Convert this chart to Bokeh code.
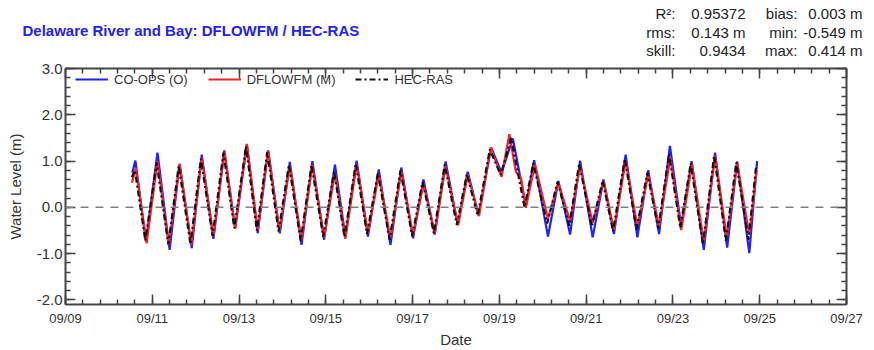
import numpy as np
import pandas as pd
from bokeh.plotting import figure
from bokeh.core.properties import value
from bokeh.models import (FixedTicker, DatetimeTickFormatter, DatetimeAxis, LinearAxis,
                          Span, Legend, LegendItem, Range1d, NumeralTickFormatter,
                          CustomJSTickFormatter, ColumnDataSource)
from bokeh.embed import file_html
from bokeh.resources import INLINE

# ---- data: high / low water times (day of September) and levels (m) ----
obs_day = [10.54, 10.61, 10.855, 11.12, 11.40, 11.63, 11.91, 12.14, 12.41, 12.66, 12.91,
           13.18, 13.43, 13.67, 13.94, 14.17, 14.44, 14.69, 14.96, 15.21, 15.45, 15.71,
           15.97, 16.22, 16.49, 16.74, 17.01, 17.25, 17.51, 17.76, 18.04, 18.27, 18.52,
           18.81, 19.05, 19.31, 19.61, 19.80, 20.12, 20.36, 20.63, 20.86, 21.15, 21.40,
           21.64, 21.91, 22.18, 22.43, 22.68, 22.93, 23.19, 23.43, 23.71, 23.97, 24.25,
           24.48, 24.76, 24.94]
obs_wl = [0.75, 1.01, -0.74, 1.18, -0.92, 0.94, -0.88, 1.14, -0.68, 1.23, -0.45,
          1.36, -0.56, 1.23, -0.56, 0.98, -0.81, 1.00, -0.70, 0.92, -0.63, 1.01,
          -0.63, 0.82, -0.81, 0.86, -0.67, 0.60, -0.59, 0.99, -0.38, 0.77, -0.17,
          1.29, 0.75, 1.49, 0.02, 1.02, -0.63, 0.57, -0.59, 1.01, -0.65, 0.60,
          -0.58, 1.14, -0.65, 0.80, -0.58, 1.33, -0.41, 1.00, -0.92, 1.18, -0.87,
          0.99, -0.99, 1.00]

mod_day = [10.53, 10.62, 10.87, 11.12, 11.38, 11.63, 11.90, 12.14, 12.41, 12.66, 12.91,
           13.18, 13.43, 13.67, 13.93, 14.17, 14.44, 14.69, 14.96, 15.21, 15.45, 15.71,
           15.97, 16.22, 16.49, 16.74, 17.01, 17.25, 17.51, 17.76, 18.05, 18.27, 18.53,
           18.80, 19.05, 19.23, 19.38, 19.50, 19.61, 19.82, 20.12, 20.36, 20.63, 20.86,
           21.15, 21.40, 21.64, 21.91, 22.18, 22.43, 22.68, 22.94, 23.19, 23.44, 23.71,
           23.97, 24.24, 24.48, 24.76, 24.93]
mod_wl = [0.53, 0.84, -0.78, 1.00, -0.81, 0.94, -0.81, 1.07, -0.63, 1.20, -0.46,
          1.37, -0.49, 1.22, -0.52, 0.89, -0.70, 0.91, -0.65, 0.74, -0.68, 0.93,
          -0.56, 0.71, -0.67, 0.78, -0.61, 0.51, -0.56, 0.89, -0.39, 0.71, -0.19,
          1.29, 0.66, 1.58, 0.77, 0.63, -0.01, 0.93, -0.25, 0.53, -0.30, 0.89,
          -0.34, 0.57, -0.49, 1.00, -0.41, 0.71, -0.41, 1.07, -0.49, 0.93, -0.74,
          1.11, -0.65, 0.96, -0.59, 0.80]

ras_day = [10.53, 10.60, 10.84, 11.10, 11.37, 11.61, 11.88, 12.12, 12.39, 12.64, 12.89,
           13.16, 13.41, 13.65, 13.91, 14.15, 14.42, 14.67, 14.94, 15.19, 15.43, 15.69,
           15.95, 16.20, 16.47, 16.72, 16.99, 17.23, 17.49, 17.74, 18.02, 18.25, 18.50,
           18.78, 19.03, 19.27, 19.58, 19.78, 20.10, 20.34, 20.61, 20.84, 21.13, 21.38,
           21.62, 21.89, 22.16, 22.41, 22.66, 22.91, 23.17, 23.41, 23.69, 23.95, 24.22,
           24.46, 24.74, 24.92]
ras_wl = [0.65, 0.80, -0.72, 0.97, -0.80, 0.90, -0.80, 1.05, -0.62, 1.18, -0.45,
          1.32, -0.50, 1.20, -0.52, 0.92, -0.72, 0.92, -0.64, 0.78, -0.64, 0.95,
          -0.58, 0.74, -0.70, 0.80, -0.62, 0.55, -0.56, 0.92, -0.38, 0.72, -0.18,
          1.25, 0.70, 1.50, 0.00, 0.95, -0.35, 0.55, -0.40, 0.95, -0.42, 0.58,
          -0.52, 1.05, -0.48, 0.75, -0.46, 1.15, -0.45, 0.95, -0.80, 1.12, -0.72,
          0.97, -0.70, 0.92]

x_tick_days = [9, 11, 13, 15, 17, 19, 21, 23, 25, 27]
y_ticks = [-2.0, -1.0, 0.0, 1.0, 2.0, 3.0]

stats_rows = [("R\u00b2:", "0.95372", "bias:", "0.003 m"),
              ("rms:", "0.143 m", "min:", "-0.549 m"),
              ("skill:", "0.9434", "max:", "0.414 m")]

title_text = "Delaware River and Bay: DFLOWFM / HEC-RAS"

BASE = pd.Timestamp("2018-09-01")


def to_dt(days):
    return BASE + pd.to_timedelta(np.asarray(days, dtype=float) - 1.0, unit="D")


def to_ms(days):
    return [(BASE + pd.Timedelta(days=d - 1)).value / 1e6 for d in days]


FONT = "Liberation Sans"
TXT = "#333333"
AX = "#444444"
W = 874
HEAD_H = 60

# ---------------- header strip (title + statistics), its own root ----------------
head = figure(width=W, height=HEAD_H, output_backend="svg", toolbar_location=None,
              x_range=Range1d(0, W), y_range=Range1d(HEAD_H, 0),
              min_border=0, min_border_left=0, min_border_right=0,
              min_border_top=0, min_border_bottom=0)
head.axis.visible = False
head.grid.visible = False
head.outline_line_color = None
head.background_fill_color = "white"
head.border_fill_color = "white"

head.text(x=[22], y=[30], text=[title_text], text_font=value(FONT),
          text_font_size="15px", text_font_style="bold", text_color="#2222ee",
          text_align="left", text_baseline="middle")

col_x = [675, 745, 797, 862]
row_y = [13, 32, 50]
sx, sy, st = [], [], []
for r, row in enumerate(stats_rows):
    for c, txt in enumerate(row):
        sx.append(col_x[c])
        sy.append(row_y[r])
        st.append(txt)
head.text(x="x", y="y", text="t", source=ColumnDataSource(dict(x=sx, y=sy, t=st)),
          text_font=value(FONT), text_font_size="15px", text_color="#222222",
          text_align="right", text_baseline="middle")

# ---------------- main plot: frame x 65..846, y 68..305 on the page ----------------
p = figure(width=W, height=350 - HEAD_H, x_axis_type="datetime",
           output_backend="svg", toolbar_location=None,
           min_border_left=65, min_border_right=28, min_border_top=68 - HEAD_H,
           min_border_bottom=45,
           x_range=Range1d(to_dt([9])[0], to_dt([27])[0]),
           y_range=Range1d(-2.1, 3.0001))
p.grid.visible = False
p.outline_line_color = None
p.background_fill_color = "white"
p.border_fill_color = "white"

minor_days = list(np.round(np.arange(9, 27.001, 0.4), 3))
xticker = FixedTicker(ticks=to_ms(x_tick_days), minor_ticks=to_ms(minor_days))
yticker = FixedTicker(ticks=y_ticks, minor_ticks=list(np.round(np.arange(-2.0, 3.001, 0.2), 3)))
fmt = DatetimeTickFormatter(days="%m/%d", months="%m/%d", hours="%m/%d", years="%m/%d")
blank = CustomJSTickFormatter(code="return ''")


def style_axis(ax):
    ax.axis_line_color = AX
    ax.axis_line_width = 2
    ax.major_tick_in = 10
    ax.major_tick_out = 0
    ax.minor_tick_in = 5
    ax.minor_tick_out = 0
    ax.major_tick_line_color = AX
    ax.minor_tick_line_color = AX
    ax.major_tick_line_width = 1.5
    ax.minor_tick_line_width = 1.5


xa = p.xaxis[0]
xa.ticker = xticker
xa.formatter = fmt
style_axis(xa)
xa.major_label_text_font = FONT
xa.major_label_text_font_size = "13px"
xa.major_label_text_color = TXT
xa.major_label_standoff = 6
xa.axis_label = "Date"
xa.axis_label_text_font = FONT
xa.axis_label_text_font_size = "15px"
xa.axis_label_text_font_style = "normal"
xa.axis_label_text_color = TXT
xa.axis_label_standoff = 2

ya = p.yaxis[0]
ya.ticker = yticker
ya.formatter = NumeralTickFormatter(format="0.0")
style_axis(ya)
ya.major_label_text_font = FONT
ya.major_label_text_font_size = "15px"
ya.major_label_text_color = TXT
ya.major_label_standoff = 3
ya.axis_label = "Water Level (m)"
ya.axis_label_text_font = FONT
ya.axis_label_text_font_size = "15px"
ya.axis_label_text_font_style = "normal"
ya.axis_label_text_color = TXT
ya.axis_label_standoff = 10

top = DatetimeAxis(ticker=xticker, formatter=blank, major_label_standoff=0)
style_axis(top)
p.add_layout(top, "above")
right = LinearAxis(ticker=yticker, formatter=blank, major_label_standoff=0)
style_axis(right)
p.add_layout(right, "right")

p.add_layout(Span(location=0, dimension="width", line_color="#808080",
                  line_width=1.5, line_dash="8 7"))

r_obs = p.line(to_dt(obs_day), obs_wl, line_color="#1f1fff", line_width=2.2)
r_mod = p.line(to_dt(mod_day), mod_wl, line_color="#ff2020", line_width=2.2)
r_ras = p.line(to_dt(ras_day), ras_wl, line_color="#111111", line_width=2.2,
               line_dash="6 3 2 3")

legend = Legend(items=[LegendItem(label="CO-OPS (O)", renderers=[r_obs]),
                       LegendItem(label="DFLOWFM (M)", renderers=[r_mod]),
                       LegendItem(label="HEC-RAS", renderers=[r_ras])],
                orientation="horizontal", location=(10, 217),
                margin=0, padding=0, spacing=20, glyph_width=33, glyph_height=16,
                label_height=16, label_standoff=6,
                border_line_color=None, background_fill_alpha=0,
                label_text_font=FONT, label_text_font_size="13px",
                label_text_color=TXT)
p.add_layout(legend)

# two separate roots stacked vertically (no frame alignment between them)
open("out.html", "w").write(file_html([head, p], INLINE))
